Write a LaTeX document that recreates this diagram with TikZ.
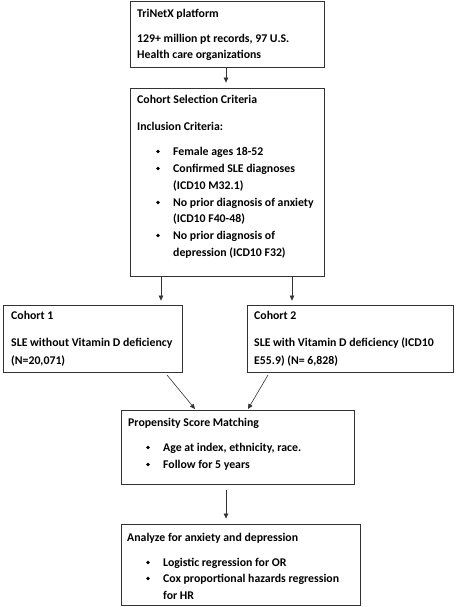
\documentclass[tikz,border=0pt]{standalone}
\usepackage{fontspec}
\setmainfont{Carlito}
\usetikzlibrary{arrows.meta}
\begin{document}
\begin{tikzpicture}[x=1pt,y=-1pt,
  box/.style={draw=black!80, line width=0.8pt, rectangle, inner sep=0pt},
  txt/.style={anchor=base west, inner sep=0pt, font=\fontsize{11.8}{14}\selectfont\bfseries},
  bul/.style={anchor=center, inner sep=0pt, circle, fill=black, minimum size=3.8pt},
  arr/.style={draw=black!80, line width=0.6pt, -{Triangle[width=4.5pt,length=5pt]}}]
\useasboundingbox (0,0) rectangle (456,607);

% boxes
\node[box, minimum width=194pt, minimum height=66pt] (b1) at (227,34) {};
\node[box, minimum width=194pt, minimum height=188pt] (b2) at (227,182) {};
\node[box, minimum width=179pt, minimum height=67pt] (c1) at (92.5,338.5) {};
\node[box, minimum width=206pt, minimum height=67pt] (c2) at (350,338.5) {};
\node[box, minimum width=233pt, minimum height=74pt] (p) at (237.5,447) {};
\node[box, minimum width=239pt, minimum height=81pt] (a) at (240.5,564.5) {};

% box 1 text
\node[txt] (t11) at (137,18) {TriNetX platform};
\node[txt] (t12) at (137,43) {129+ million pt records, 97 U.S.};
\node[txt] (t13) at (137,59) {Health care organizations};

% box 2 text
\node[txt] (t21) at (137,104) {Cohort Selection Criteria};
\node[txt] (t22) at (137,130) {Inclusion Criteria:};
\node[bul] (u21) at (158,151.5) {};
\node[txt] (t23) at (173,155) {Female ages 18-52};
\node[bul] (u22) at (158,168.5) {};
\node[txt] (t24) at (173,172) {Confirmed SLE diagnoses};
\node[txt] (t25) at (173,189) {(ICD10 M32.1)};
\node[bul] (u23) at (158,202.5) {};
\node[txt] (t26) at (173,206) {No prior diagnosis of anxiety};
\node[txt] (t27) at (173,222) {(ICD10 F40-48)};
\node[bul] (u24) at (158,235.5) {};
\node[txt] (t28) at (173,239) {No prior diagnosis of};
\node[txt] (t29) at (173,256) {depression (ICD10 F32)};

% cohorts
\node[txt] (t31) at (11,319) {Cohort 1};
\node[txt] (t32) at (11,346) {SLE without Vitamin D deficiency};
\node[txt] (t33) at (11,364) {(N=20,071)};
\node[txt] (t41) at (254,319) {Cohort 2};
\node[txt] (t42) at (254,346) {SLE with Vitamin D deficiency (ICD10};
\node[txt] (t43) at (254,364) {E55.9) (N= 6,828)};

% propensity
\node[txt] (t51) at (128,426) {Propensity Score Matching};
\node[bul] (u51) at (148,447.5) {};
\node[txt] (t52) at (163,451) {Age at index, ethnicity, race.};
\node[bul] (u52) at (148,464.5) {};
\node[txt] (t53) at (163,468) {Follow for 5 years};

% analyze
\node[txt] (t61) at (127,541) {Analyze for anxiety and depression};
\node[bul] (u61) at (148,562.5) {};
\node[txt] (t62) at (163,566) {Logistic regression for OR};
\node[bul] (u62) at (148,578.5) {};
\node[txt] (t63) at (163,582) {Cox proportional hazards regression};
\node[txt] (t64) at (163,599) {for HR};

% connectors
\coordinate (xa) at (226,0);
\coordinate (xl) at (161,0);
\coordinate (xr) at (292,0);
\coordinate (d1s) at (167,375);
\coordinate (d1e) at (195,409);
\coordinate (d2s) at (268,375);
\coordinate (d2e) at (248,409);
\draw[arr, shorten >=5pt] (b1.south -| xa) -- (b2.north -| xa);
\draw[arr, shorten >=4pt] (b2.south -| xl) -- (c1.north -| xl);
\draw[arr, shorten >=4pt] (b2.south -| xr) -- (c2.north -| xr);
\draw[arr] (d1s) -- (d1e);
\draw[arr] (d2s) -- (d2e);
\draw[arr, shorten <=6pt, shorten >=5pt] (p.south -| xa) -- (a.north -| xa);
\end{tikzpicture}
\end{document}
